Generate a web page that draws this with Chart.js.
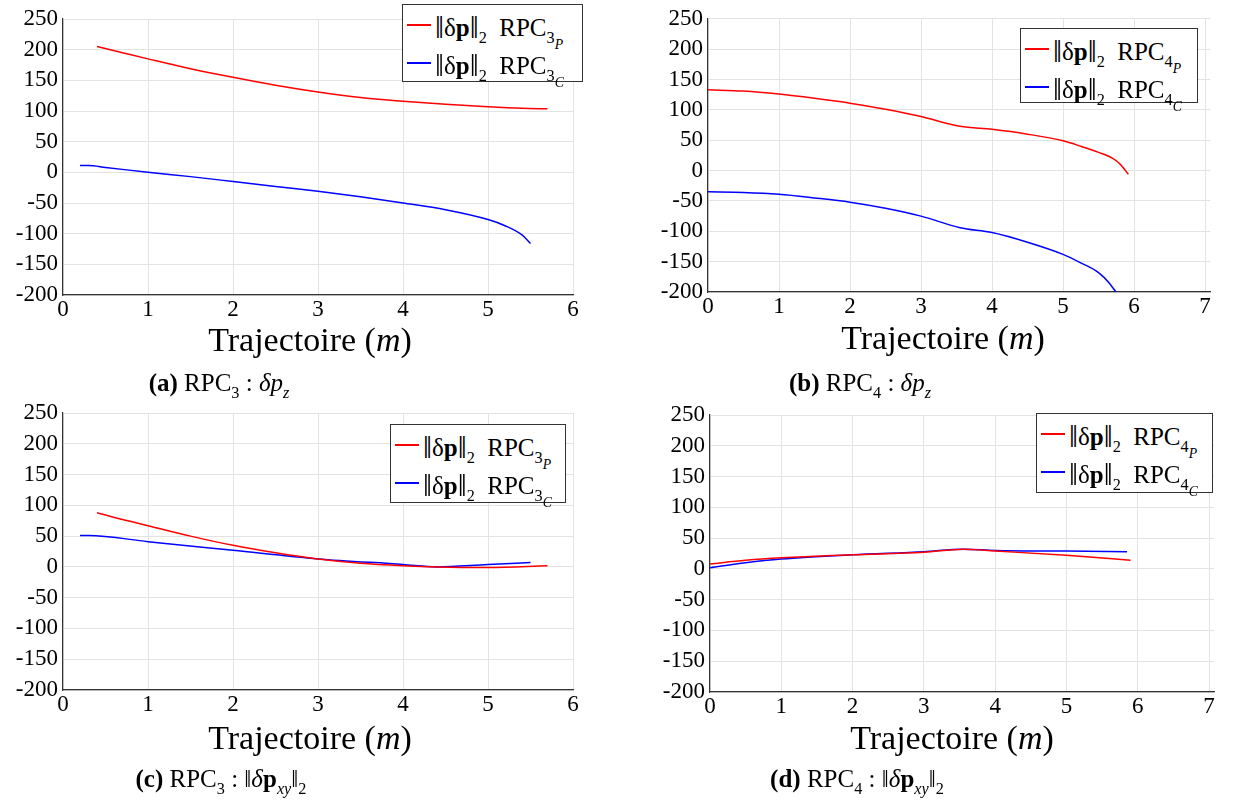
<!DOCTYPE html>
<html>
<head>
<meta charset="utf-8">
<script src="https://cdn.jsdelivr.net/npm/chart.js@4/dist/chart.umd.min.js"></script>
<style>
body { margin:0; background:#fff; width:1237px; height:805px; position:relative; overflow:hidden; font-family:"Liberation Serif", serif; color:#000; }
canvas { position:absolute; left:0; top:0; }
.xt { position:absolute; font-size:34px; white-space:nowrap; transform:translate(-50%,-50%); }
.cap { position:absolute; font-size:25px; white-space:nowrap; transform:translate(-50%,-50%); }
.leg { position:absolute; border:1px solid #333; background:#fff; box-sizing:border-box; }
.row { position:absolute; left:4px; height:36px; white-space:nowrap; font-size:25px; }
.ln { position:absolute; left:0; top:17px; width:24px; height:2px; }
.tx { position:absolute; left:28px; top:0px; }
.bar { font-size:32px; position:relative; top:2px; }
sub { font-size:65%; vertical-align:-0.4em; }
sub sub { font-size:85%; }
</style>
</head>
<body>
<canvas id="cA" width="1237" height="805"></canvas>
<canvas id="cB" width="1237" height="805"></canvas>
<canvas id="cC" width="1237" height="805"></canvas>
<canvas id="cD" width="1237" height="805"></canvas>

<div class="xt" style="left:310px;top:340px">Trajectoire (<i>m</i>)</div>
<div class="xt" style="left:943px;top:338px">Trajectoire (<i>m</i>)</div>
<div class="xt" style="left:310px;top:738px">Trajectoire (<i>m</i>)</div>
<div class="xt" style="left:952px;top:738px">Trajectoire (<i>m</i>)</div>

<div class="cap" style="left:219px;top:386px"><b>(a)</b> RPC<sub>3</sub> : <i>δp<sub>z</sub></i></div>
<div class="cap" style="left:860px;top:386px"><b>(b)</b> RPC<sub>4</sub> : <i>δp<sub>z</sub></i></div>
<div class="cap" style="left:221px;top:782px"><b>(c)</b> RPC<sub>3</sub> : ‖<i>δ</i><b>p</b><sub><i>xy</i></sub>‖<sub>2</sub></div>
<div class="cap" style="left:857px;top:782px"><b>(d)</b> RPC<sub>4</sub> : ‖<i>δ</i><b>p</b><sub><i>xy</i></sub>‖<sub>2</sub></div>

<div id="legA" class="leg" style="left:402px;top:4px;width:181px;height:78px"></div>
<div id="legB" class="leg" style="left:1020px;top:28px;width:178px;height:75px"></div>
<div id="legC" class="leg" style="left:390px;top:424px;width:176px;height:79px"></div>
<div id="legD" class="leg" style="left:1036px;top:413px;width:177px;height:80px"></div>

<script>
// (a) RPC3 : dpz
var xA_P = [0.4, 0.7, 1, 1.5, 2, 2.5, 3, 3.5, 4, 4.5, 5, 5.4, 5.7];
var yA_P = [205, 195, 185, 169, 155, 142, 131, 122, 116, 111, 107, 104.5, 103.5];
var xA_C = [0.2, 0.3, 0.5, 1, 1.5, 2, 2.5, 3, 3.5, 4, 4.5, 5, 5.2, 5.4, 5.5];
var yA_C = [11, 11, 8, 0, -7, -15, -23, -31, -40, -50, -61, -77, -87, -102, -116];

// (b) RPC4 : dpz
var xB_P = [0, 0.5, 1, 1.5, 2, 2.5, 3, 3.55, 4, 4.5, 5, 5.25, 5.5, 5.7, 5.8, 5.92];
var yB_P = [133, 131, 126, 119, 111, 101, 89, 73, 68, 60, 49, 40, 30, 20, 11, -6];
var xB_C = [0, 0.5, 1, 1.5, 2, 2.5, 3, 3.55, 4, 4.5, 5, 5.25, 5.5, 5.65, 5.75];
var yB_C = [-35, -36, -39, -45, -52, -62, -75, -94, -102, -118, -138, -152, -168, -185, -201];

// (c) RPC3 : ||dpxy||
var xC_P = [0.4, 0.7, 1, 1.5, 2, 2.5, 3, 3.5, 4, 4.4, 5, 5.7];
var yC_P = [88, 77, 67, 50, 35, 23, 13, 6, 2, 0, -1, 2];
var xC_C = [0.2, 0.3, 1, 2, 3, 4, 4.4, 5, 5.5];
var yC_C = [51, 51, 41, 27, 13, 4, 0, 4, 7];

// (d) RPC4 : ||dpxy||
var xD_P = [0, 0.5, 1, 2, 3, 3.55, 4, 5, 5.9];
var yD_P = [8, 14, 18, 23, 27, 32, 29, 22, 14];
var xD_C = [0, 0.5, 1, 2, 3, 3.55, 4, 5, 5.85];
var yD_C = [2, 10, 16, 23, 28, 32, 30, 29, 28];

var xTicks6 = [0, 1, 2, 3, 4, 5, 6];
var xTicks7 = [0, 1, 2, 3, 4, 5, 6, 7];
var yTicks = [-200, -150, -100, -50, 0, 50, 100, 150, 200, 250];

var RED = '#ff0000', BLUE = '#0000ff';

function pts(xs, ys) {
    return xs.map(function (x, i) { return { x: x, y: ys[i] }; });
}

function makePanel(id, box, xmax, xticks, red, blue) {
    var ctx = document.getElementById(id).getContext('2d');
    var tickFont = { family: '"Liberation Serif", serif', size: 23 };
    var line = { borderWidth: 1.5, showLine: true, pointRadius: 0, cubicInterpolationMode: 'monotone' };
    new Chart(ctx, {
        type: 'scatter',
        data: {
            datasets: [
                Object.assign({ data: red, borderColor: RED }, line),
                Object.assign({ data: blue, borderColor: BLUE }, line)
            ]
        },
        options: {
            responsive: false,
            animation: false,
            devicePixelRatio: 1,
            layout: { padding: { left: box.l - 60, top: box.t, right: 1237 - box.r, bottom: 805 - box.b - 30 } },
            plugins: { legend: { display: false }, tooltip: { enabled: false } },
            scales: {
                x: {
                    type: 'linear', min: 0, max: xmax,
                    afterBuildTicks: function (s) { s.ticks = xticks.map(function (v) { return { value: v }; }); },
                    afterFit: function (s) { s.height = 30; },
                    grid: { color: '#e3e3e3', tickLength: 0 },
                    border: { color: '#333', width: 1.2 },
                    ticks: { color: '#000', font: tickFont, padding: 1, maxRotation: 0, autoSkip: false }
                },
                y: {
                    type: 'linear', min: -200, max: 250,
                    afterBuildTicks: function (s) { s.ticks = yTicks.map(function (v) { return { value: v }; }); },
                    afterFit: function (s) { s.width = 60; },
                    grid: { color: '#e3e3e3', tickLength: 0 },
                    border: { color: '#333', width: 1.2 },
                    ticks: { color: '#000', font: tickFont, padding: 5, autoSkip: false }
                }
            }
        }
    });
}

function makeLegend(id, num) {
    var norm = '<span class="bar">‖</span>δ<b>p</b><span class="bar">‖</span><sub>2</sub>&nbsp; RPC';
    var labels = [norm + '<sub>' + num + '<sub><i>P</i></sub></sub>', norm + '<sub>' + num + '<sub><i>C</i></sub></sub>'];
    var colors = [RED, BLUE];
    var html = '';
    for (var i = 0; i < 2; i++) {
        html += '<div class="row" style="top:' + (2 + i * 38) + 'px"><span class="ln" style="background:' + colors[i] + '"></span><span class="tx">' + labels[i] + '</span></div>';
    }
    document.getElementById(id).innerHTML = html;
}

makePanel('cA', { l: 63, r: 573, t: 19, b: 295 }, 6, xTicks6, pts(xA_P, yA_P), pts(xA_C, yA_C));
makePanel('cB', { l: 708, r: 1210, t: 17, b: 292 }, 7.07, xTicks7, pts(xB_P, yB_P), pts(xB_C, yB_C));
makePanel('cC', { l: 63, r: 573, t: 413, b: 690 }, 6, xTicks6, pts(xC_P, yC_P), pts(xC_C, yC_C));
makePanel('cD', { l: 710, r: 1214, t: 415, b: 692 }, 7.07, xTicks7, pts(xD_P, yD_P), pts(xD_C, yD_C));

makeLegend('legA', 3);
makeLegend('legB', 4);
makeLegend('legC', 3);
makeLegend('legD', 4);
</script>
</body>
</html>
